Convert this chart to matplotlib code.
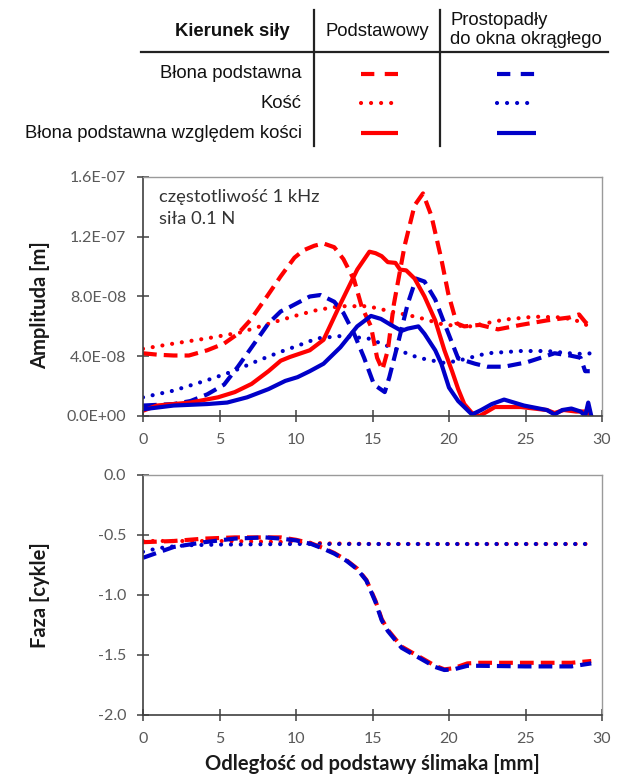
import matplotlib
matplotlib.use("Agg")
import matplotlib.pyplot as plt
from matplotlib.lines import Line2D
import numpy as np

# ---------------- data (amplitude in 1e-8 m, phase in cycles) ----------------
bm_r_x = [0, 1, 2, 3, 4.2, 5.3, 6.2, 7.0, 8.1, 9.0, 9.9, 10.5, 11.2, 11.8, 12.5, 13.1, 13.8, 14.3,
          14.9, 15.3, 15.65, 16.0, 16.4, 17.1, 17.75, 18.3, 18.85, 19.5, 19.95, 20.5, 21.0, 22.0,
          23.2, 24.7, 26.4, 27.9, 28.5, 28.9, 29.3]
bm_r_y = [4.2, 4.1, 4.05, 4.05, 4.4, 4.85, 5.5, 6.4, 8.0, 9.35, 10.6, 11.1, 11.4, 11.55, 11.3, 10.5,
          9.1, 7.3, 6.0, 3.9, 3.1, 4.4, 7.5, 11.4, 14.1, 14.9, 13.4, 10.5, 8.2, 6.2, 6.0, 6.1,
          5.8, 6.1, 6.4, 6.6, 6.8, 6.3, 5.9]

bone_r_x = [0, 2, 4.2, 6.4, 8.6, 10.1, 11.4, 12.9, 14.7, 16.2, 18.0, 19.7, 21.4, 23.6, 25.6,
            27.4, 28.3, 29.2]
bone_r_y = [4.5, 4.85, 5.2, 5.6, 6.3, 6.75, 7.1, 7.35, 7.35, 7.0, 6.6, 6.1, 6.0, 6.45, 6.65,
            6.6, 6.4, 6.0]

rel_r_x = [0, 0.9, 3.1, 4.9, 6.0, 7.1, 8.2, 9.0, 9.6, 10.9, 11.8, 12.9, 14.0, 14.8, 15.2, 15.6,
           16.0, 16.5, 16.8, 17.2, 17.75, 18.4, 19.1, 19.7, 20.2, 20.6, 21.0, 21.5, 22.0, 22.5,
           23.0, 24.7, 26.4, 26.9, 27.5, 28.3, 28.9, 29.3]
rel_r_y = [0.35, 0.7, 0.9, 1.25, 1.6, 2.15, 3.0, 3.7, 3.95, 4.4, 5.1, 7.5, 9.8, 11.0, 10.9, 10.7,
           10.3, 10.25, 9.8, 9.75, 9.2, 8.0, 6.4, 4.4, 3.0, 1.8, 0.8, 0.2, 0.0, 0.3,
           0.6, 0.6, 0.4, 0.2, 0.4, 0.3, 0.3, 0.0]

bm_b_x = [0, 2.0, 3.1, 4.2, 5.3, 6.2, 7.1, 8.2, 9.0, 9.6, 10.9, 11.6, 12.5, 13.1, 13.8, 14.45,
          15.1, 15.8, 16.1, 16.65, 17.3, 17.85, 18.4, 19.1, 19.7, 20.6, 21.7, 22.5, 23.6, 25.1,
          26.9, 27.9, 28.6, 28.9, 29.2]
bm_b_y = [0.7, 0.8, 1.0, 1.45, 2.1, 3.3, 4.6, 6.2, 7.0, 7.3, 8.0, 8.1, 7.65, 6.9, 5.5, 3.9,
          2.1, 1.6, 2.6, 4.8, 7.5, 9.2, 9.0, 7.8, 6.2, 3.85, 3.5, 3.3, 3.3, 3.6,
          4.2, 4.05, 3.9, 3.0, 3.0]

bone_b_x = [0, 2.0, 4.2, 5.9, 7.5, 9.0, 10.1, 11.4, 12.9, 14.7, 16.2, 18.0, 19.7, 20.6, 22.5,
            24.7, 26.4, 27.9, 28.8, 29.3]
bone_b_y = [1.25, 1.7, 2.4, 3.0, 3.7, 4.3, 4.7, 5.2, 5.35, 5.2, 4.6, 3.9, 3.55, 3.7, 4.2,
            4.35, 4.35, 4.2, 4.15, 4.2]

rel_b_x = [0, 2.0, 4.2, 5.5, 6.8, 8.2, 9.3, 10.1, 10.9, 11.8, 12.9, 14.0, 14.9, 15.55, 16.2,
           16.9, 17.3, 18.0, 18.4, 19.1, 19.5, 20.0, 20.6, 21.5, 22.1, 22.8, 23.6, 24.9, 26.4,
           26.9, 27.4, 28.0, 28.6, 28.9, 29.1, 29.3]
rel_b_y = [0.45, 0.7, 0.8, 0.9, 1.25, 1.8, 2.35, 2.6, 3.0, 3.5, 4.6, 6.0, 6.7, 6.5, 6.1,
           5.7, 5.85, 6.0, 5.5, 4.4, 3.5, 1.9, 1.0, 0.1, 0.4, 0.8, 1.1, 0.7, 0.4,
           0.1, 0.4, 0.5, 0.3, 0.0, 0.9, 0.0]

ph_bm_x = [0, 2, 4, 6, 8, 9, 10, 11, 11.8, 12.5, 13.3, 14, 14.6, 15.2, 15.6, 16.0, 16.9, 18.0,
           19.1, 19.7, 20.3, 21.2, 22, 25, 28, 29.3]
ph_bm_r = [-0.56, -0.55, -0.53, -0.52, -0.52, -0.52, -0.54, -0.57, -0.61, -0.65, -0.71, -0.78,
           -0.875, -1.05, -1.2, -1.29, -1.43, -1.51, -1.59, -1.62, -1.61, -1.57, -1.565,
           -1.565, -1.565, -1.55]
ph_bm_b = [-0.69, -0.6, -0.56, -0.53, -0.52, -0.53, -0.545, -0.575, -0.615, -0.655, -0.715,
           -0.785, -0.88, -1.06, -1.21, -1.30, -1.44, -1.52, -1.60, -1.625, -1.62, -1.59,
           -1.59, -1.595, -1.595, -1.57]
ph_bone_x = [0, 1, 2, 3, 5, 10, 12, 15, 20, 25, 29.3]
ph_bone_r = [-0.55, -0.55, -0.55, -0.55, -0.55, -0.56, -0.57, -0.575, -0.575, -0.575, -0.575]
ph_bone_b = [-0.64, -0.61, -0.595, -0.585, -0.58, -0.575, -0.575, -0.575, -0.575, -0.575, -0.575]

x_ticks = [0, 5, 10, 15, 20, 25, 30]
amp_ticks = [0.0, 4.0e-8, 8.0e-8, 1.2e-7, 1.6e-7]
amp_labels = ["0.0E+00", "4.0E-08", "8.0E-08", "1.2E-07", "1.6E-07"]
ph_ticks = [-2.0, -1.5, -1.0, -0.5, 0.0]
ph_labels = ["-2.0", "-1.5", "-1.0", "-0.5", "0.0"]

row_labels = ["Błona podstawna", "Kość", "Błona podstawna względem kości"]

# ---------------- styling ----------------
RED = "#ff0000"
BLUE = "#0000c8"
LW = 3.0
DASH = (0, (3.3, 1.7))
DOT = (0, (0.01, 2.35))
TICKC = "#595959"
W, H = 622, 778

fig = plt.figure(figsize=(W / 100, H / 100), dpi=100)
fig.patch.set_facecolor("white")

def fx(px):
    return px / W

def fy(py):
    return 1 - py / H

ax1 = fig.add_axes([fx(143), fy(416), fx(602) - fx(143), fy(177) - fy(416)])
ax2 = fig.add_axes([fx(143), fy(715), fx(602) - fx(143), fy(475) - fy(715)])

def style_axes(ax):
    ax.set_xlim(0, 30)
    ax.set_xticks(x_ticks)
    for s in ["left", "bottom"]:
        ax.spines[s].set_color("#404040")
        ax.spines[s].set_linewidth(1.2)
    for s in ["top", "right"]:
        ax.spines[s].set_color("#9a9a9a")
        ax.spines[s].set_linewidth(1.0)
    ax.tick_params(direction="inout", length=8, width=1.1, color="#404040",
                   labelcolor=TICKC, labelsize=11.5, pad=8)
    for lab in ax.get_xticklabels() + ax.get_yticklabels():
        lab.set_family("Lato")

def plot_line(ax, x, y, color, ls, scale=1.0, z=2):
    kw = dict(color=color, lw=LW, zorder=z)
    if ls == "dash":
        kw.update(ls=DASH, dash_capstyle="butt")
    elif ls == "dot":
        kw.update(ls=DOT, dash_capstyle="round")
    else:
        kw.update(ls="-", solid_capstyle="round", solid_joinstyle="round")
    ax.plot(x, np.asarray(y) * scale, **kw)

# top: amplitude
plot_line(ax1, bone_r_x, bone_r_y, RED, "dot", 1e-8)
plot_line(ax1, bone_b_x, bone_b_y, BLUE, "dot", 1e-8)
plot_line(ax1, bm_r_x, bm_r_y, RED, "dash", 1e-8)
plot_line(ax1, bm_b_x, bm_b_y, BLUE, "dash", 1e-8)
plot_line(ax1, rel_r_x, rel_r_y, RED, "solid", 1e-8)
plot_line(ax1, rel_b_x, rel_b_y, BLUE, "solid", 1e-8)
ax1.set_ylim(0, 1.6e-7)
ax1.set_yticks(amp_ticks)
ax1.set_yticklabels(amp_labels)
style_axes(ax1)
ax1.set_ylabel("Amplituda [m]", family="Lato", fontweight="bold", fontsize=14.5, color="#1a1a1a")
ax1.yaxis.set_label_coords((50 - 143) / 459, 0.465)
ax1.text(fx(159), fy(197), "częstotliwość 1 kHz", transform=fig.transFigure,
         family="Lato", fontsize=13.2, color="#333333", va="center", ha="left")
ax1.text(fx(159), fy(219), "siła 0.1 N", transform=fig.transFigure,
         family="Lato", fontsize=13.2, color="#333333", va="center", ha="left")

# bottom: phase
plot_line(ax2, ph_bone_x, ph_bone_r, RED, "dot")
plot_line(ax2, ph_bone_x, ph_bone_b, BLUE, "dot")
plot_line(ax2, ph_bm_x, ph_bm_r, RED, "dash")
plot_line(ax2, ph_bm_x, ph_bm_b, BLUE, "dash")
ax2.set_ylim(-2.0, 0.0)
ax2.set_yticks(ph_ticks)
ax2.set_yticklabels(ph_labels)
style_axes(ax2)
ax2.set_ylabel("Faza [cykle]", family="Lato", fontweight="bold", fontsize=14.5, color="#1a1a1a")
ax2.yaxis.set_label_coords((50 - 143) / 459, 0.5)
fig.text(fx(372), fy(764), "Odległość od podstawy ślimaka [mm]", family="Lato",
         fontweight="bold", fontsize=14.5, color="#1a1a1a", ha="center", va="center")

# ---------------- table-legend on top ----------------
TF = ["Liberation Sans", "DejaVu Sans"]
TS = 13.3
fig.text(fx(290), fy(31), "Kierunek siły", family=TF, fontweight="bold", fontsize=TS,
         ha="right", va="center", color="#111111")
fig.text(fx(377), fy(31), "Podstawowy", family=TF, fontsize=TS, ha="center", va="center",
         color="#111111")
fig.text(fx(450), fy(30), "Prostopadły\ndo okna okrągłego", family=TF, fontsize=TS,
         ha="left", va="center", color="#111111", linespacing=1.1)
fig.add_artist(Line2D([fx(141), fx(608)], [fy(52), fy(52)], color="#222222", lw=1.6))
for vx in [314, 440]:
    fig.add_artist(Line2D([fx(vx), fx(vx)], [fy(10), fy(146)], color="#222222", lw=1.6))

row_y = [74, 103, 133]
styles = ["dash", "dot", "solid"]
for lab, ry, st in zip(row_labels, row_y, styles):
    fig.text(fx(302), fy(ry), lab, family=TF, fontsize=TS, ha="right", va="center",
             color="#111111")
    for col, (x0, x1) in zip([RED, BLUE], [(361, 398), (497, 536)]):
        if st == "dash":
            ls = (0, (3.2, 2.5))
            cap = "butt"
        elif st == "dot":
            ls = (0, (0.01, 2.4))
            cap = "round"
        else:
            ls = "-"
            cap = "butt"
        ln = Line2D([fx(x0), fx(x1)], [fy(ry), fy(ry)], color=col, lw=LW, ls=ls,
                    dash_capstyle=cap, solid_capstyle=cap)
        fig.add_artist(ln)

fig.savefig("out.png", dpi=100, facecolor="white")
